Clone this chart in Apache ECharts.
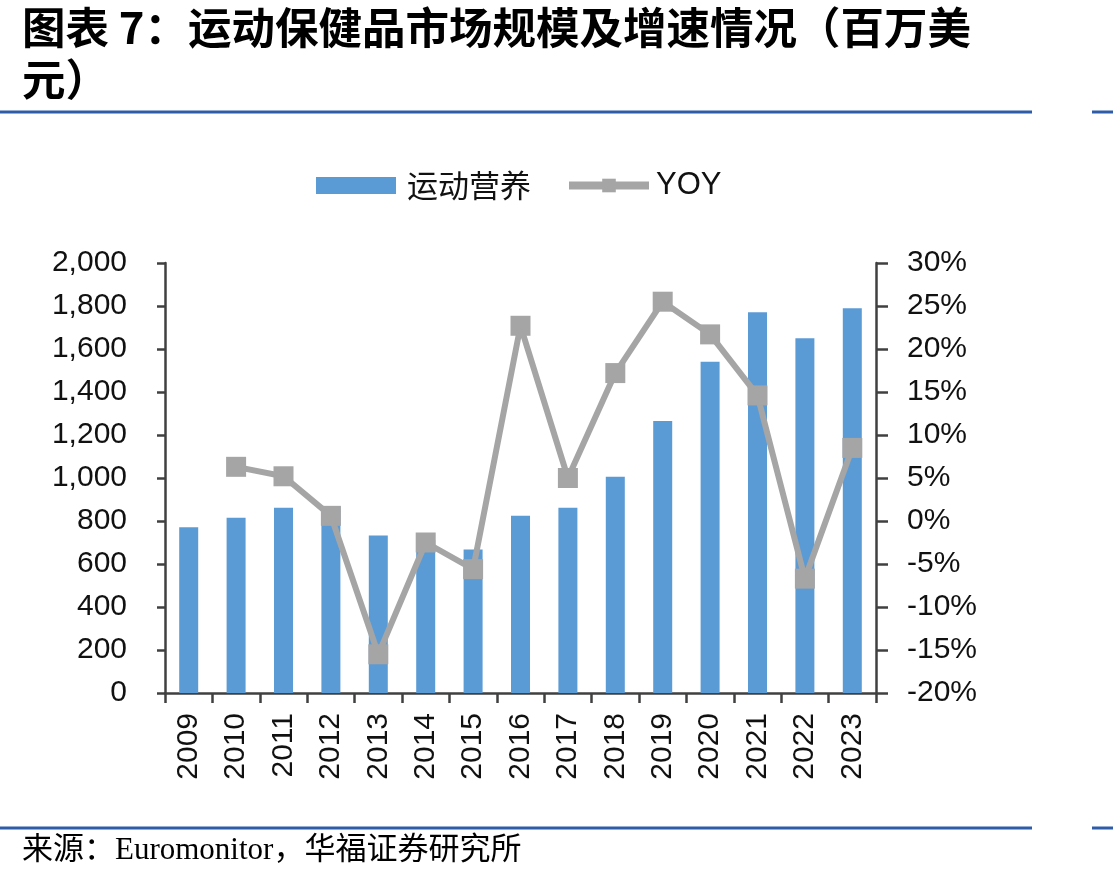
<!DOCTYPE html>
<html><head><meta charset="utf-8">
<script src="https://cdn.jsdelivr.net/npm/echarts@6/dist/echarts.min.js"></script>
<style>html,body{margin:0;padding:0;background:#fff}#c{width:1113px;height:882px}</style>
</head><body><div id="c"></div>
<script>
const categories = ['2009','2010','2011','2012','2013','2014','2015','2016','2017','2018','2019','2020','2021','2022','2023'];
const sportsNutrition = [771, 815, 862, 867, 732, 712, 668, 825, 862, 1006, 1265, 1541, 1771, 1650, 1789];
const yoy = [null, 6.3, 5.2, 0.6, -15.5, -2.5, -5.6, 22.7, 5.0, 17.2, 25.5, 21.7, 14.6, -6.7, 8.5];
const titleLine1 = '图表 7：运动保健品市场规模及增速情况（百万美';
const titleLine2 = '元）';
const sourceText = '来源：Euromonitor，华福证券研究所';
const barName = '运动营养';
const lineName = 'YOY';

const chart = echarts.init(document.getElementById('c'), null, {renderer: 'canvas'});
const axisColor = '#404040';
const blue = '#2E5CA8';
chart.setOption({
  animation: false,
  backgroundColor: '#fff',
  grid: {left: 165, right: 237, top: 263, bottom: 189, containLabel: false},
  legend: {
    left: 316, top: 170, padding: 0, itemWidth: 80, itemHeight: 17, itemGap: 34,
    textStyle: {fontSize: 31, color: '#111', fontFamily: 'Noto Sans CJK SC, Liberation Sans', padding: [0,0,0,6]},
    data: [
      {name: barName, icon: 'rect'},
      {name: lineName, textStyle: {fontFamily: 'Liberation Sans, Arial', fontSize: 31, padding: [0,0,0,2]},
        lineStyle: {width: 8, color: '#A5A5A5'}, itemStyle: {color: '#A5A5A5'}}
    ]
  },
  xAxis: {
    type: 'category', data: categories, boundaryGap: true,
    axisLine: {lineStyle: {color: axisColor, width: 2.5}},
    axisTick: {show: true, length: 10, lineStyle: {color: axisColor, width: 2.5}},
    axisLabel: {rotate: 90, fontSize: 30, margin: 20, color: '#111', fontFamily: 'Liberation Sans, Arial'}
  },
  yAxis: [
    {
      type: 'value', min: 0, max: 2000, interval: 200,
      splitLine: {show: false},
      axisLine: {show: true, lineStyle: {color: axisColor, width: 2.5}},
      axisTick: {show: true, length: 8, lineStyle: {color: axisColor, width: 2.5}},
      axisLabel: {fontSize: 30, margin: 38, color: '#111', fontFamily: 'Liberation Sans, Arial',
        formatter: v => v.toLocaleString('en-US')}
    },
    {
      type: 'value', min: -20, max: 30, interval: 5, position: 'right',
      splitLine: {show: false},
      axisLine: {show: true, lineStyle: {color: axisColor, width: 2.5}},
      axisTick: {show: true, length: 12, lineStyle: {color: axisColor, width: 2.5}},
      axisLabel: {fontSize: 30, margin: 31, color: '#111', fontFamily: 'Liberation Sans, Arial',
        formatter: v => v + '%'}
    }
  ],
  series: [
    {name: barName, type: 'bar', data: sportsNutrition, yAxisIndex: 0, barWidth: 19,
      itemStyle: {color: '#5B9BD5'}},
    {name: lineName, type: 'line', data: yoy, yAxisIndex: 1, symbol: 'rect', symbolSize: 20,
      connectNulls: false,
      lineStyle: {color: '#A5A5A5', width: 6},
      itemStyle: {color: '#A5A5A5'}, z: 5}
  ],
  graphic: [
    {type: 'text', left: 22, top: 6, style: {text: titleLine1, fontSize: 43.5, fontWeight: 'bold', fill: '#000', fontFamily: 'Noto Sans CJK SC'}},
    {type: 'text', left: 22, top: 58, style: {text: titleLine2, fontSize: 43.5, fontWeight: 'bold', fill: '#000', fontFamily: 'Noto Sans CJK SC'}},
    {type: 'rect', shape: {x: 0, y: 110.5, width: 1032, height: 3}, style: {fill: blue}},
    {type: 'rect', shape: {x: 1092, y: 110.5, width: 21, height: 3}, style: {fill: blue}},
    {type: 'rect', shape: {x: 0, y: 826.5, width: 1032, height: 3}, style: {fill: blue}},
    {type: 'rect', shape: {x: 1092, y: 826.5, width: 21, height: 3}, style: {fill: blue}},
    {type: 'text', left: 22, top: 835, style: {text: sourceText, fontSize: 31, fill: '#000', fontFamily: 'Liberation Serif, Noto Sans CJK SC'}}
  ]
});
</script></body></html>
